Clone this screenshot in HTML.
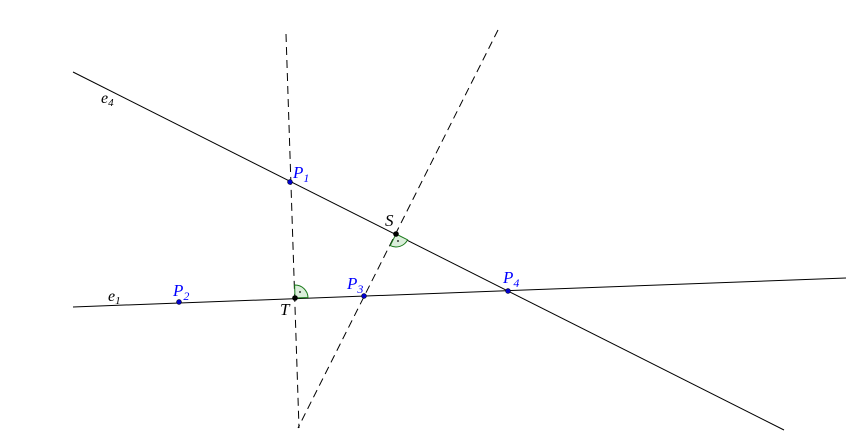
<!DOCTYPE html>
<html><head><style>
html,body{margin:0;padding:0;background:#fff;}
svg{display:block;}
text{font-family:"Liberation Serif",serif;font-style:italic;}
</style></head><body>
<svg width="854" height="448" viewBox="0 0 854 448" xmlns="http://www.w3.org/2000/svg">
<rect width="854" height="448" fill="#fff"/>
<g stroke="#000" stroke-width="1" fill="none">
<line x1="73" y1="72" x2="784" y2="430"/>
<line x1="73" y1="307" x2="846" y2="278"/>
<line x1="286" y1="34" x2="299" y2="428" stroke-dasharray="8,5"/>
<line x1="498" y1="30" x2="298" y2="428" stroke-dasharray="8,5"/>
</g>
<path d="M396,234 L407.6,239.8 A13,13 0 0 1 390.2,245.6 Z" fill="#dbeedb" stroke="#1a7a1a" stroke-width="1"/>
<path d="M295,298 L294.6,285 A13,13 0 0 1 308,297.5 Z" fill="#dbeedb" stroke="#1a7a1a" stroke-width="1"/>
<circle cx="398" cy="241" r="0.9" fill="#000"/>
<circle cx="300" cy="292" r="0.9" fill="#000"/>
<g fill="#0000cc" stroke="#000" stroke-width="0.5">
<circle cx="290" cy="182" r="2.5"/>
<circle cx="179" cy="302" r="2.5"/>
<circle cx="364" cy="296" r="2.5"/>
<circle cx="508" cy="291" r="2.5"/>
</g>
<circle cx="396" cy="234" r="2.8" fill="#000"/>
<circle cx="295" cy="298" r="2.8" fill="#000"/>
<g font-size="17" fill="#0000ff">
<text x="293" y="178">P<tspan font-size="12" dy="4">1</tspan></text>
<text x="173" y="296">P<tspan font-size="12" dy="4">2</tspan></text>
<text x="347" y="289">P<tspan font-size="12" dy="4">3</tspan></text>
<text x="503" y="283">P<tspan font-size="12" dy="4">4</tspan></text>
</g>
<g font-size="17" fill="#000">
<text x="385" y="226">S</text>
<text x="280" y="315">T</text>
<text x="101" y="103" font-size="16">e<tspan font-size="11" dy="3">4</tspan></text>
<text x="108" y="301" font-size="16">e<tspan font-size="11" dy="3">1</tspan></text>
</g>
</svg>
</body></html>
